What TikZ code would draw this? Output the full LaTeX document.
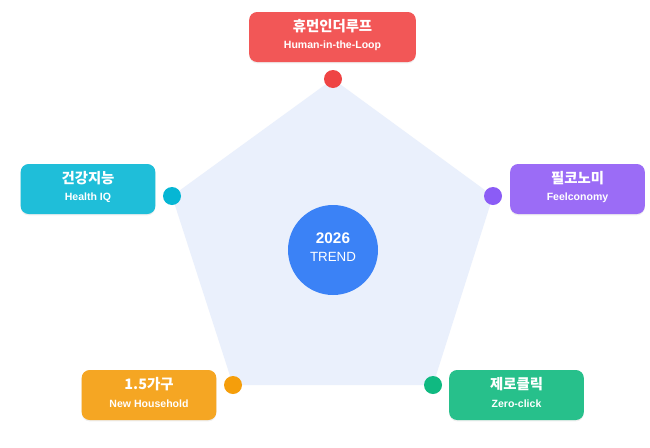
\documentclass[tikz,border=0pt]{standalone}
\usepackage{fontspec}
\setmainfont{Liberation Sans}
\newfontfamily\kr{Noto Sans CJK KR}
\usetikzlibrary{shadows}
\definecolor{pent}{HTML}{EAF0FC}
\definecolor{cred}{HTML}{F25757}
\definecolor{dred}{HTML}{EF4444}
\definecolor{ccyan}{HTML}{1FBED9}
\definecolor{dcyan}{HTML}{06B6D4}
\definecolor{cviolet}{HTML}{9B6CF6}
\definecolor{dviolet}{HTML}{8B5CF6}
\definecolor{camber}{HTML}{F5A623}
\definecolor{damber}{HTML}{F59E0B}
\definecolor{cgreen}{HTML}{27C08B}
\definecolor{dgreen}{HTML}{10B981}
\definecolor{cblue}{HTML}{3B82F6}
\tikzset{
  card/.style={rounded corners=6pt, minimum width=101pt, minimum height=37.5pt, inner sep=0pt,
    drop shadow={shadow xshift=0pt, shadow yshift=-1pt, opacity=0.12}},
  kt/.style={text=white, font=\kr\bfseries\fontsize{10.8}{12}\selectfont, inner sep=0pt},
  et/.style={text=white, font=\bfseries\fontsize{7.9}{9}\selectfont, inner sep=0pt},
  vdot/.style={circle, minimum size=13.5pt, inner sep=0pt},
}
\begin{document}
\begin{tikzpicture}[x=0.75pt,y=-0.75pt]
\useasboundingbox[fill=white] (0,0) rectangle (650,447);
% pentagon
\coordinate (vt) at (333,79);
\coordinate (vr) at (493,196);
\coordinate (vbr) at (433,385);
\coordinate (vbl) at (233,385);
\coordinate (vl) at (172,196);
\fill[pent] (vt) -- (vr) -- (vbr) -- (vbl) -- (vl) -- cycle;
% center
\node[circle, fill=cblue, minimum size=67.5pt, inner sep=0pt] (center) at (333,250) {};
\node[text=white, font=\bfseries\fontsize{11.5}{12}\selectfont] (y2026) at (333,238) {2026};
\node[text=white, font=\fontsize{10}{12}\selectfont] (trend) at (333,257) {TREND};
% dots
\node[vdot, fill=dred] (dt) at (vt) {};
\node[vdot, fill=dviolet] (dr) at (vr) {};
\node[vdot, fill=dgreen] (dbr) at (vbr) {};
\node[vdot, fill=damber] (dbl) at (vbl) {};
\node[vdot, fill=dcyan] (dl) at (vl) {};
% cards
\node[card, fill=cred, minimum width=125pt] (ct) at (332.5,37) {};
\node[kt] at (332.5,26) {휴먼인더루프};
\node[et] at (332.5,46) {Human-in-the-Loop};

\node[card, fill=ccyan] (cl) at (88,189) {};
\node[kt] at (88,178) {건강지능};
\node[et] at (88,198) {Health IQ};

\node[card, fill=cviolet] (cr) at (577.5,189) {};
\node[kt] at (577.5,178) {필코노미};
\node[et] at (577.5,198) {Feelconomy};

\node[card, fill=camber] (cbl) at (149,395) {};
\node[kt] at (149,384) {1.5가구};
\node[et] at (149,404) {New Household};

\node[card, fill=cgreen] (cbr) at (516.5,395) {};
\node[kt] at (516.5,384) {제로클릭};
\node[et] at (516.5,404) {Zero-click};
\end{tikzpicture}
\end{document}
